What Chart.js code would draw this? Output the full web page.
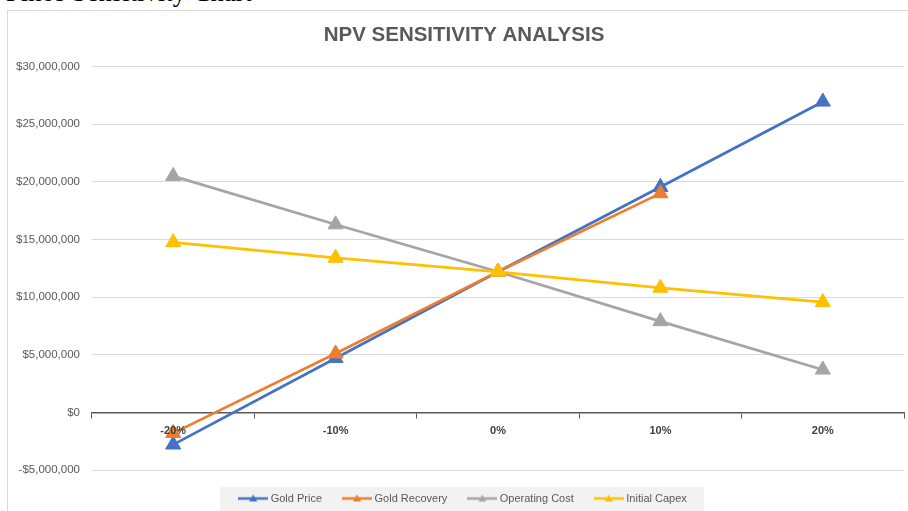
<!DOCTYPE html>
<html>
<head>
<meta charset="utf-8">
<script src="https://cdn.jsdelivr.net/npm/chart.js@4.4.1/dist/chart.umd.min.js"></script>
<style>
    body { margin: 0; overflow: hidden; background: #fff; }
    #pageTitle {
        position: absolute; left: 6px; top: -21px;
        font-family: "Liberation Serif", serif; font-size: 26.67px; line-height: 27px;
        color: #000; white-space: nowrap;
    }
    #chartBox {
        position: absolute; left: 7px; top: 10px;
        border-left: 1px solid #d9d9d9; border-top: 1px solid #d9d9d9;
    }
    canvas { display: block; }
</style>
</head>
<body>
<div id="pageTitle">Pinos Sensitivity Chart</div>
<div id="chartBox"><canvas id="npvChart" width="912" height="503"></canvas></div>
<script>
/* ================================
   DADOS
================================ */
const categories = ['-20%', '-10%', '0%', '10%', '20%'];
const goldPrice = [-2800000, 4700000, 12200000, 19550000, 26950000];
const goldRecovery = [-1800000, 5100000, 12200000, 19000000, null];
const operatingCost = [20500000, 16300000, 12200000, 7900000, 3700000];
const initialCapex = [14750000, 13400000, 12200000, 10800000, 9560000];
const yTicks = { min: -5000000, max: 30000000, step: 5000000 };

const FONT = '"Liberation Sans", Arial, sans-serif';

// marcador da legenda: linha com triangulo pequeno
function legendIcon(color) {
    const c = document.createElement('canvas');
    c.width = 30; c.height = 12;
    const ctx = c.getContext('2d');
    ctx.strokeStyle = color;
    ctx.lineWidth = 2.5;
    ctx.beginPath(); ctx.moveTo(0, 6); ctx.lineTo(30, 6); ctx.stroke();
    ctx.fillStyle = color;
    ctx.beginPath(); ctx.moveTo(15, 2); ctx.lineTo(19, 9); ctx.lineTo(11, 9); ctx.closePath(); ctx.fill();
    return c;
}

function money(v) {
    const s = '$' + Math.abs(v).toLocaleString('en-US');
    return v < 0 ? '-' + s : s;
}

function series(label, data, color, order) {
    return {
        label, data, order,
        borderColor: color, backgroundColor: color,
        borderWidth: 2.75,
        pointStyle: 'triangle', pointRadius: 8.7, pointBorderWidth: 1,
        pointBackgroundColor: color, pointBorderColor: color,
        tension: 0, clip: false,
        icon: legendIcon(color)
    };
}

// fundo cinza atras da legenda
const legendBg = {
    id: 'legendBg',
    beforeDraw(chart) {
        const lg = chart.legend;
        if (!lg || !lg.legendHitBoxes.length) return;
        const boxes = lg.legendHitBoxes;
        const left = Math.min(...boxes.map(b => b.left)) - 21;
        const right = Math.max(...boxes.map(b => b.left + b.width)) + 17;
        const top = boxes[0].top - 6;
        const { ctx } = chart;
        ctx.save();
        ctx.fillStyle = '#f2f2f2';
        ctx.fillRect(left, top, right - left, 40);
        ctx.restore();
    }
};

new Chart(document.getElementById('npvChart'), {
    type: 'line',
    data: {
        labels: categories,
        datasets: [
            series('Gold Price', goldPrice, '#4472C4', 4),
            series('Gold Recovery', goldRecovery, '#ED7D31', 3),
            series('Operating Cost', operatingCost, '#A5A5A5', 2),
            series('Initial Capex', initialCapex, '#FFC000', 1)
        ]
    },
    options: {
        responsive: false,
        animation: false,
        layout: { padding: { left: 16, right: 16, top: 0, bottom: 0 } },
        plugins: {
            title: {
                display: true,
                text: 'NPV SENSITIVITY ANALYSIS',
                color: '#595959',
                font: { family: FONT, size: 20.5, weight: 'bold' },
                padding: { top: 12, bottom: 19 }
            },
            legend: {
                position: 'bottom',
                labels: {
                    usePointStyle: true,
                    pointStyleWidth: 24,
                    padding: 23,
                    color: '#595959',
                    font: { family: FONT, size: 11 },
                    generateLabels: (chart) => chart.data.datasets.map((ds, i) => ({
                        text: ds.label,
                        pointStyle: ds.icon,
                        fillStyle: ds.borderColor,
                        strokeStyle: ds.borderColor,
                        fontColor: '#595959',
                        lineWidth: 0,
                        datasetIndex: i
                    }))
                }
            },
            tooltip: { enabled: false }
        },
        scales: {
            x: {
                type: 'category',
                position: { y: 0 },
                offset: true,
                grid: { drawOnChartArea: false, drawTicks: true, tickLength: 5, color: '#595959', offset: true },
                border: { color: '#595959', width: 1.5 },
                ticks: { z: 1, color: '#404040', padding: 7, font: { family: FONT, size: 11, weight: 'bold' } }
            },
            y: {
                min: yTicks.min,
                max: yTicks.max,
                afterFit: (s) => {
                    s.width = 68;
                    s._computeLabelArea = () => undefined; // rotulos passam da margem sem corte
                },
                grid: { color: '#d9d9d9', drawTicks: false },
                border: { display: false },
                ticks: {
                    stepSize: yTicks.step,
                    padding: 12,
                    color: '#595959',
                    font: { family: FONT, size: 11.5 },
                    callback: (v) => money(v)
                }
            }
        }
    },
    plugins: [legendBg]
});
</script>
</body>
</html>
